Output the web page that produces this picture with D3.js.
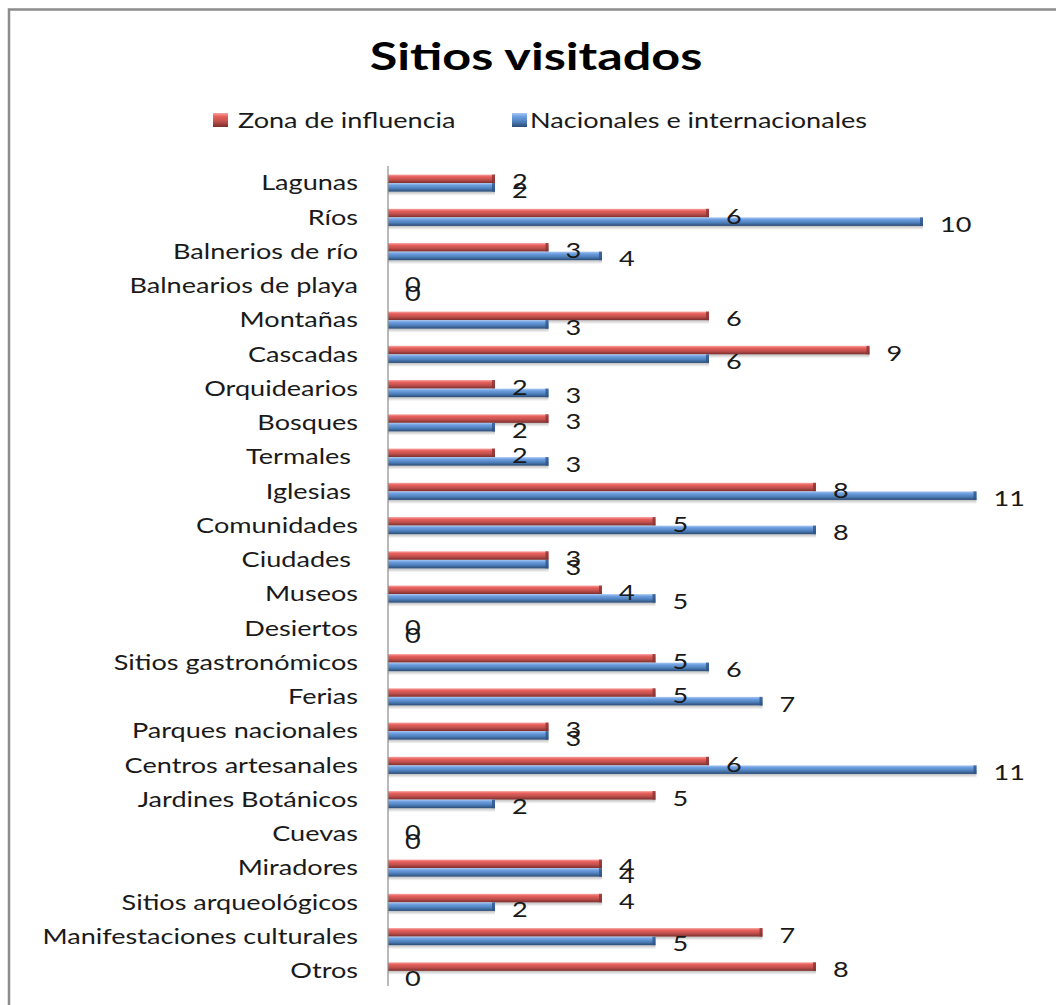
<!DOCTYPE html>
<html><head><meta charset="utf-8">
<script src="https://cdn.jsdelivr.net/npm/d3@7"></script>
<style>body{margin:0;background:#fff}svg{display:block;font-family:Lato,"Open Sans",sans-serif}</style>
</head><body><svg id="c" width="1056" height="1005"></svg>
<script>
const categories = ["Lagunas","Ríos","Balnerios de río","Balnearios de playa","Montañas","Cascadas","Orquidearios","Bosques","Termales ","Iglesias ","Comunidades","Ciudades ","Museos","Desiertos","Sitios gastronómicos","Ferias","Parques nacionales","Centros artesanales","Jardines Botánicos","Cuevas","Miradores","Sitios arqueológicos","Manifestaciones culturales","Otros"];
const zona = [2,6,3,0,6,9,2,3,2,8,5,3,4,0,5,5,3,6,5,0,4,4,7,8];
const nacionales = [2,10,4,0,3,6,3,2,3,11,8,3,5,0,6,7,3,11,2,0,4,2,5,0];
const seriesNames = ["Zona de influencia","Nacionales e internacionales"];
const title = "Sitios visitados";

const SX = 1.29; // horizontal stretch of the text in the picture
const svg = d3.select("#c");
const defs = svg.append("defs");
function grad(id, stops){
  const g = defs.append("linearGradient").attr("id",id).attr("x1",0).attr("y1",0).attr("x2",0).attr("y2",1);
  stops.forEach(s=>g.append("stop").attr("offset",s[0]).attr("stop-color",s[1]));
}
grad("gRed",[[0,"#f7a5a3"],[0.25,"#e8605c"],[0.6,"#c0504d"],[1,"#7a2e2c"]]);
grad("gBlue",[[0,"#a9c8f2"],[0.25,"#6d9ee0"],[0.6,"#4f81bd"],[1,"#2b4b74"]]);
grad("gShadow",[[0,"rgba(0,0,0,0.25)"],[1,"rgba(0,0,0,0)"]]);

function txt(parent, x, y, s, size, anchor, weight){
  return parent.append("text")
    .attr("transform", `translate(${x},${y}) scale(${SX},1)`)
    .attr("text-anchor", anchor || "start")
    .attr("font-size", size).attr("font-weight", weight || "normal")
    .attr("fill", "#1a1a1a").style("white-space","pre").text(s);
}

// frame
svg.append("rect").attr("x",9).attr("y",9.5).attr("width",1100).attr("height",1100)
  .attr("fill","none").attr("stroke","#8c8c8c").attr("stroke-width",2.5);

txt(svg, 536, 70, title, 39, "middle", "bold").attr("fill","#000");

// legend
const leg = [{x:213, tx:238, c:"gRed", t:seriesNames[0]},{x:512, tx:530, c:"gBlue", t:seriesNames[1]}];
leg.forEach(l=>{
  svg.append("rect").attr("x",l.x).attr("y",113).attr("width",15).attr("height",14).attr("fill","url(#"+l.c+")");
  txt(svg, l.tx, 128, l.t, 21);
});

const x = d3.scaleLinear().domain([0,12]).range([388,1030]);
const y = d3.scaleBand().domain(categories).range([166,988]).paddingInner(0.5).paddingOuter(0.25);
const bh = y.bandwidth()/2;

const g = svg.append("g");
const lg = svg.append("g");
categories.forEach((c,i)=>{
  const vals = [zona[i], nacionales[i]];
  vals.forEach((v,k)=>{
    const yy = y(c) + k*bh;
    if (v>0){
      g.append("rect").attr("x",x(0)).attr("y",yy+bh).attr("width",x(v)-x(0)).attr("height",4).attr("fill","url(#gShadow)");
      g.append("rect").attr("x",x(0)).attr("y",yy).attr("width",x(v)-x(0)).attr("height",bh)
        .attr("fill", k===0 ? "url(#gRed)" : "url(#gBlue)");
      g.append("rect").attr("x",x(v)-3).attr("y",yy).attr("width",3).attr("height",bh)
        .attr("fill", k===0 ? "#8a3533" : "#2f5589").attr("opacity",0.8);
    }
    txt(lg, x(v)+17, yy+bh/2+3+7.5, String(v), 21);
  });
});

// axis
const axis = d3.axisLeft(y).tickSize(0).tickPadding(30);
const ag = svg.append("g").attr("transform","translate(388,0)").call(axis);
ag.select(".domain").attr("stroke","#8c8c8c").attr("stroke-width",1.2).attr("d","M0,166V986");
ag.selectAll(".tick text")
  .attr("font-size",21).attr("font-family","Lato,'Open Sans',sans-serif").attr("fill","#1a1a1a")
  .style("white-space","pre").attr("dy","0.35em")
  .attr("transform", `translate(-30,0) scale(${SX},1)`).attr("x",0);
</script></body></html>
